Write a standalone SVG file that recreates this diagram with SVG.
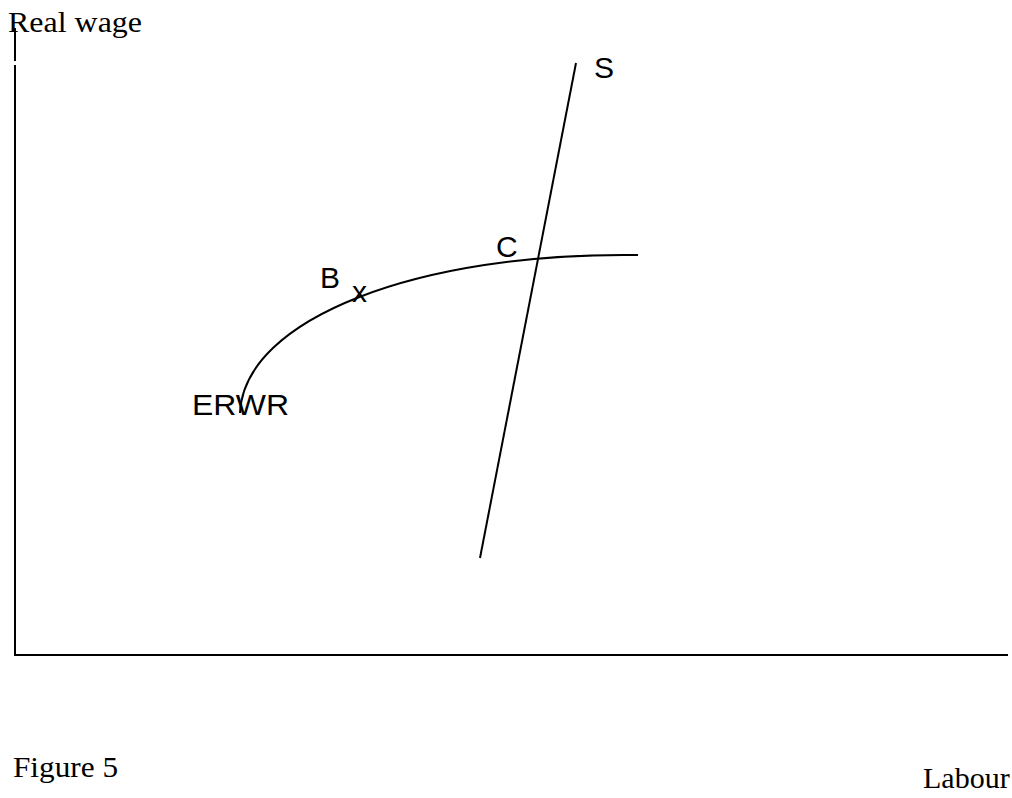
<svg xmlns="http://www.w3.org/2000/svg" width="1012" height="798" viewBox="0 0 1012 798">
<style>
.ln{stroke:#000;stroke-width:2;fill:none}
.serif{font-family:"Liberation Serif",serif;font-size:30px;fill:#000}
.sans{font-family:"Liberation Sans",sans-serif;font-size:30px;fill:#000}
</style>
<rect width="1012" height="798" fill="#fff"/>
<g id="connectors">
<path class="ln" d="M15,28 V61 M15,65 V655 H1008"/>
<path class="ln" d="M576,63 L480,558"/>
<path class="ln" d="M240,413 C244,318 420,252 638,255"/>
</g>
<g id="axis-labels">
<text class="serif" x="8" y="32" textLength="134" lengthAdjust="spacingAndGlyphs">Real wage</text>
<text class="serif" x="13" y="777" textLength="105" lengthAdjust="spacingAndGlyphs">Figure 5</text>
<text class="serif" x="923" y="788">Labour</text>
</g>
<g id="S"><text class="sans" x="594" y="78">S</text></g>
<g id="C"><text class="sans" x="496" y="257">C</text></g>
<g id="B"><text class="sans" x="320" y="288">B</text><text class="sans" x="352" y="302">x</text></g>
<g id="ERWR"><text class="sans" x="192" y="415" textLength="97" lengthAdjust="spacingAndGlyphs">ERWR</text></g>
</svg>
